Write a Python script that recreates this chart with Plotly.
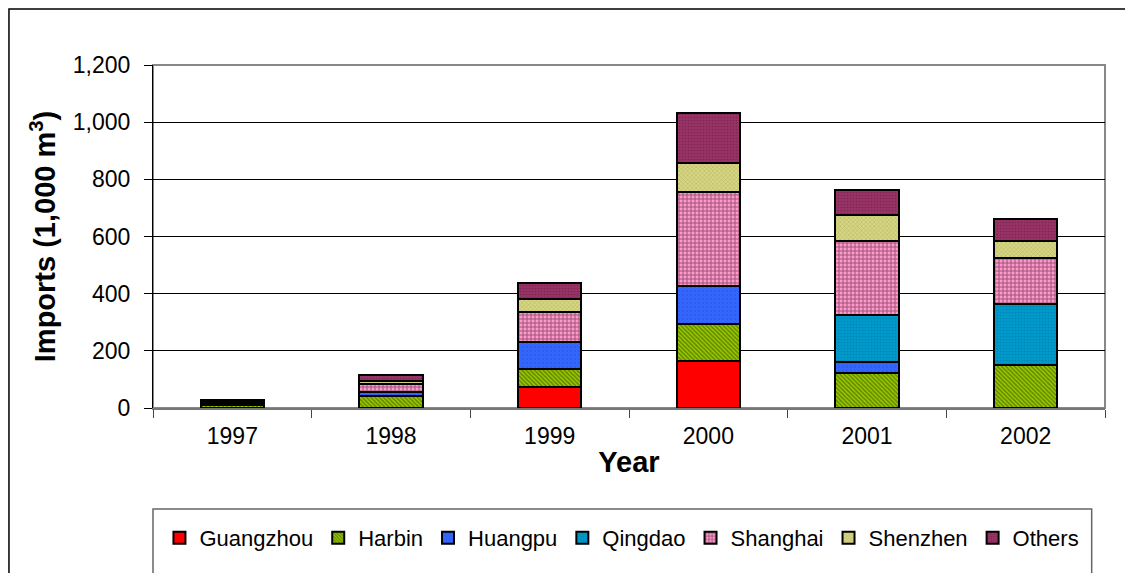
import plotly.graph_objects as go

years = ["1997", "1998", "1999", "2000", "2001", "2002"]
series_names = ["Guangzhou", "Harbin", "Huangpu", "Qingdao", "Shanghai", "Shenzhen", "Others"]
guangzhou = [0, 0, 75, 164, 0, 0]
harbin = [10, 43, 61, 131, 122, 149]
huangpu = [4, 12, 96, 133, 39, 0]
qingdao = [0, 0, 0, 0, 165, 216]
shanghai = [8, 28, 103, 326, 259, 160]
shenzhen = [3, 10, 45, 103, 90, 60]
others = [4, 21, 56, 175, 88, 76]
y_ticks = [0, 200, 400, 600, 800, 1000, 1200]
y_tick_labels = ["0", "200", "400", "600", "800", "1,000", "1,200"]

values = [guangzhou, harbin, huangpu, qingdao, shanghai, shenzhen, others]
colors = ["#FF0000", "#99CC00", "#3366FF", "#0099CC", "#FF99CC", "#D6D683", "#993366"]
patterns = [
    dict(shape=""),
    dict(shape="\\", fgcolor="#2e3d00", size=3, solidity=0.5),
    dict(shape=".", fgcolor="#2a4fc0", size=4, solidity=0.2),
    dict(shape=".", fgcolor="#006f94", size=3, solidity=0.25),
    dict(shape="+", fgcolor="#3d1229", size=4, solidity=0.45),
    dict(shape="x", fgcolor="#8f8f45", size=3, solidity=0.3),
    dict(shape=".", fgcolor="#5a1d3b", size=3, solidity=0.25),
]

fig = go.Figure()
for name, vals, col, pat in zip(series_names, values, colors, patterns):
    fig.add_trace(go.Bar(
        name=name, x=years, y=vals,
        marker=dict(color=col, line=dict(color="#000000", width=2), pattern=pat),
    ))

font = "Liberation Sans, Arial, sans-serif"
# page is offset by 8px (body margin); figure coordinates compensate
fig.update_layout(
    barmode="stack",
    bargap=0.6,
    width=1125, height=565,
    margin=dict(l=145, r=28, t=57, b=165, autoexpand=False),
    paper_bgcolor="white", plot_bgcolor="white",
    font=dict(family=font, size=22, color="#000"),
    xaxis=dict(
        type="category", showgrid=False, ticks="outside", tickson="boundaries",
        ticklen=8, tickcolor="#444", showline=True, linecolor="#777", linewidth=2,
        ticklabelstandoff=6,
        title=dict(text="<b>Year</b>", font=dict(size=29, family=font), standoff=4),
        tickfont=dict(size=23),
    ),
    yaxis=dict(
        range=[0, 1200], tickvals=y_ticks, ticktext=y_tick_labels,
        showgrid=True, gridcolor="#000", gridwidth=1,
        ticks="outside", ticklen=8, tickcolor="#000",
        showline=True, linecolor="#000", linewidth=1,
        ticklabelstandoff=9,
        title=dict(text="<b>Imports (1,000 m<sup>3</sup>)</b>", font=dict(size=29, family=font), standoff=8),
        tickfont=dict(size=23), zeroline=False,
    ),
    legend=dict(
        orientation="h", x=0.4926, xanchor="center", y=-0.379, yanchor="middle",
        borderwidth=0, bgcolor="rgba(0,0,0,0)", font=dict(size=22),
        traceorder="normal", itemwidth=30,
    ),
    shapes=[
        dict(type="rect", xref="paper", yref="paper", x0=0, x1=1, y0=0, y1=1,
             line=dict(color="#888", width=2), layer="below"),
        dict(type="rect", xref="paper", yref="paper", x0=-0.1513, x1=1.2, y0=-0.7, y1=1.1633,
             line=dict(color="#000", width=1.5), layer="below"),
        dict(type="rect", xref="paper", yref="paper", x0=0.0, x1=0.986, y0=-0.7, y1=-0.2945,
             line=dict(color="#666", width=1.5), layer="below"),
    ],
)

fig.write_html("out.html")
